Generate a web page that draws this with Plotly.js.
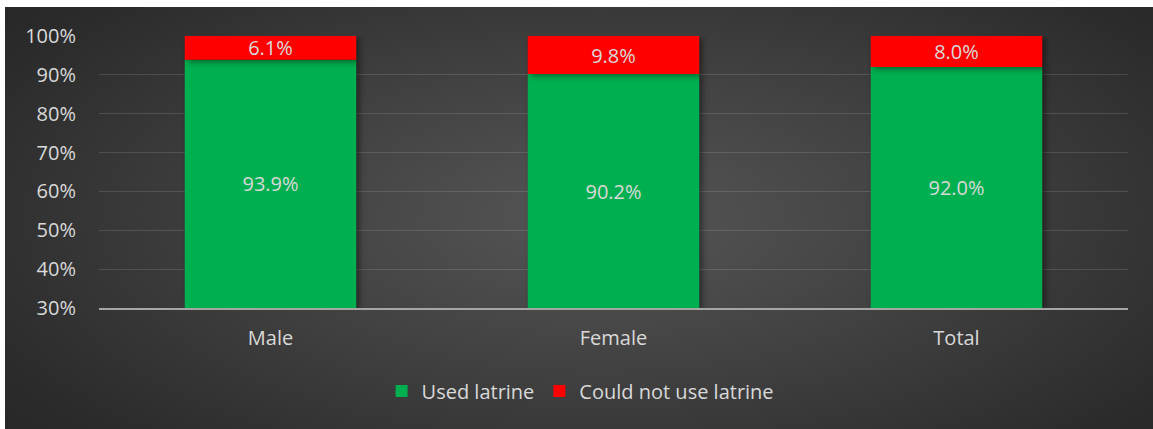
<!DOCTYPE html>
<html>
<head>
<meta charset="utf-8">
<script src="https://cdn.plot.ly/plotly-3.0.1.min.js"></script>
<style>
  html, body { margin: 0; padding: 0; background: #ffffff; }
  body { width: 1153px; height: 429px; position: relative; overflow: hidden; }
  #chart {
    position: absolute; left: 5px; top: 7px; width: 1148px; height: 422px;
    background: radial-gradient(ellipse 70% 85% at 52% 50%, #565656 0%, #404040 45%, #2b2b2b 85%, #262626 100%);
  }
  .barlayer .point path { filter: drop-shadow(3px 2px 3px rgba(0,0,0,0.45)); }
</style>
</head>
<body>
<div id="chart"></div>
<script>
// Share of respondents by latrine use, per group
const categories = ['Male', 'Female', 'Total'];
const usedLatrine = [93.9, 90.2, 92.0];
const couldNotUse = [6.1, 9.8, 8.0];
const yTickValues = [30, 40, 50, 60, 70, 80, 90, 100];
const yTickLabels = ['30%', '40%', '50%', '60%', '70%', '80%', '90%', '100%'];

const axisFloor = 30;
const fontFamily = '"Open Sans", "Noto Sans", sans-serif';
const labelColor = '#d9d9d9';
const fontSize = 20;

const fmt = v => v.toFixed(1) + '%';

const traces = [
  {
    type: 'bar',
    name: 'Used latrine',
    x: categories,
    base: usedLatrine.map(() => axisFloor),
    y: usedLatrine.map(v => v - axisFloor),
    text: usedLatrine.map(fmt),
    textposition: 'inside',
    insidetextanchor: 'middle',
    textangle: 0,
    constraintext: 'none',
    textfont: { family: fontFamily, size: fontSize, color: labelColor },
    marker: { color: '#00b050', line: { width: 0 } },
    hoverinfo: 'skip'
  },
  {
    type: 'bar',
    name: 'Could not use latrine',
    x: categories,
    base: usedLatrine,
    y: couldNotUse,
    text: couldNotUse.map(fmt),
    textposition: 'inside',
    insidetextanchor: 'middle',
    textangle: 0,
    constraintext: 'none',
    textfont: { family: fontFamily, size: fontSize, color: labelColor },
    marker: { color: '#ff0000', line: { width: 0 } },
    hoverinfo: 'skip'
  }
];

const layout = {
  width: 1148,
  height: 422,
  margin: { l: 94, r: 25, t: 29, b: 121 },
  paper_bgcolor: 'rgba(0,0,0,0)',
  plot_bgcolor: 'rgba(0,0,0,0)',
  barmode: 'overlay',
  bargap: 0.5,
  font: { family: fontFamily, size: fontSize, color: labelColor },
  showlegend: true,
  legend: {
    orientation: 'h',
    x: 0.468, xanchor: 'center',
    y: -0.305, yanchor: 'middle',
    font: { family: fontFamily, size: fontSize, color: labelColor },
    itemwidth: 30,
    traceorder: 'normal',
    bgcolor: 'rgba(0,0,0,0)'
  },
  xaxis: {
    type: 'category',
    showgrid: false,
    showline: true,
    linecolor: '#a6a6a6',
    linewidth: 2,
    ticks: '',
    tickfont: { family: fontFamily, size: fontSize, color: labelColor },
    ticklabelstandoff: 11,
    fixedrange: true
  },
  yaxis: {
    range: [30, 100],
    tickmode: 'array',
    tickvals: yTickValues,
    ticktext: yTickLabels,
    showgrid: true,
    gridcolor: 'rgba(255,255,255,0.13)',
    gridwidth: 1,
    zeroline: false,
    showline: false,
    ticks: '',
    ticklabelstandoff: 22,
    tickfont: { family: fontFamily, size: fontSize, color: labelColor },
    fixedrange: true
  }
};

Plotly.newPlot('chart', traces, layout, { displayModeBar: false, staticPlot: true });
</script>
</body>
</html>
